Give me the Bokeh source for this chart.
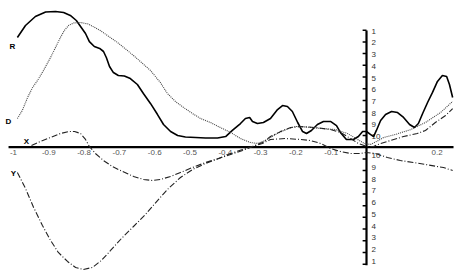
from bokeh.plotting import figure
from bokeh.models import ColumnDataSource
from bokeh.core.properties import value
from bokeh.embed import file_html
from bokeh.resources import INLINE

# ---- data ----
r_x = [-0.989, -0.966, -0.938, -0.909, -0.881, -0.858, -0.839, -0.822, -0.810, -0.796, -0.785, -0.771,
       -0.756, -0.745, -0.737, -0.728, -0.717, -0.703, -0.686, -0.669, -0.649, -0.632, -0.612, -0.592,
       -0.575, -0.555, -0.535, -0.513, -0.484, -0.456, -0.422, -0.399, -0.380, -0.357, -0.343, -0.331,
       -0.323, -0.309, -0.292, -0.272, -0.252, -0.238, -0.224, -0.210, -0.195, -0.181, -0.170, -0.156,
       -0.139, -0.122, -0.102, -0.085, -0.074, -0.057, -0.037, -0.023, -0.011, 0.000, 0.011, 0.020,
       0.028, 0.040, 0.054, 0.071, 0.088, 0.105, 0.122, 0.136, 0.147, 0.159, 0.173, 0.187, 0.201,
       0.215, 0.227, 0.235, 0.244]
r_y = [9.38, 10.40, 11.17, 11.56, 11.60, 11.51, 11.26, 10.83, 10.32, 9.72, 9.03, 8.61,
       8.44, 8.18, 7.67, 6.90, 6.38, 6.13, 6.09, 5.87, 5.36, 4.59, 3.74, 2.79,
       1.94, 1.34, 1.00, 0.87, 0.83, 0.79, 0.79, 0.91, 1.43, 2.02, 2.45, 2.54,
       2.20, 2.03, 2.11, 2.45, 3.22, 3.56, 3.48, 3.05, 2.11, 1.34, 1.17, 1.43,
       1.94, 2.20, 2.20, 1.85, 1.26, 0.66, 0.66, 0.91, 1.34, 1.34, 1.09, 0.91,
       1.43, 2.28, 2.79, 3.05, 2.96, 2.54, 1.94, 1.68, 2.02, 2.88, 3.82, 4.68, 5.62,
       6.13, 6.04, 5.36, 4.25]

d_x = [-0.989, -0.975, -0.960, -0.946, -0.932, -0.915, -0.895, -0.881, -0.867, -0.856, -0.844, -0.830,
       -0.810, -0.788, -0.754, -0.705, -0.660, -0.612, -0.584, -0.564, -0.541, -0.518, -0.493, -0.470,
       -0.442, -0.414, -0.385, -0.357, -0.329, -0.309, -0.286, -0.258, -0.229, -0.201, -0.173, -0.130,
       -0.088, -0.054, -0.025, -0.006, 0.011, 0.028, 0.048, 0.082, 0.125, 0.167, 0.210, 0.244]
d_y = [2.45, 3.14, 4.25, 5.10, 5.70, 6.56, 7.67, 8.52, 9.38, 9.97, 10.40, 10.62,
       10.66, 10.53, 9.97, 8.94, 7.84, 6.56, 5.53, 4.59, 3.90, 3.39, 2.88, 2.45,
       2.11, 1.68, 1.26, 0.74, 0.40, 0.32, 0.57, 1.09, 1.50, 1.77, 1.73, 1.60,
       1.51, 1.17, 0.66, 0.32, 0.23, 0.48, 0.82, 1.09, 1.50, 2.11, 2.97, 3.91]

x_x = [-0.949, -0.924, -0.895, -0.867, -0.844, -0.827, -0.810, -0.796, -0.785, -0.768, -0.745, -0.720,
       -0.691, -0.660, -0.632, -0.606, -0.584, -0.555, -0.527, -0.493, -0.456, -0.419, -0.385, -0.351,
       -0.323, -0.295, -0.272, -0.244, -0.215, -0.187, -0.144, -0.102, -0.074, -0.045, -0.023, 0.000,
       0.020, 0.040, 0.068, 0.105, 0.144, 0.167, 0.195, 0.224, 0.244]
x_y = [0.15, 0.49, 0.83, 1.17, 1.34, 1.34, 1.17, 0.66, 0.06, -0.54, -1.14, -1.65,
       -2.08, -2.50, -2.76, -2.85, -2.76, -2.50, -2.16, -1.74, -1.31, -0.97, -0.62, -0.28,
       0.06, 0.40, 0.91, 1.33, 1.68, 1.77, 1.68, 1.51, 1.26, 0.74, 0.32, 0.06,
       0.06, 0.32, 0.57, 0.91, 1.17, 1.43, 2.11, 2.71, 3.30]

y_x = [-0.989, -0.966, -0.943, -0.918, -0.895, -0.873, -0.847, -0.824, -0.802, -0.776, -0.751, -0.725,
       -0.694, -0.660, -0.626, -0.592, -0.561, -0.527, -0.493, -0.456, -0.419, -0.385, -0.351, -0.323,
       -0.295, -0.272, -0.229, -0.187, -0.159, -0.130, -0.102, -0.074, -0.045, -0.017, 0.000, 0.025,
       0.059, 0.096, 0.133, 0.167, 0.218, 0.244]
y_y = [-2.16, -3.53, -5.15, -6.69, -7.97, -9.00, -9.77, -10.28, -10.45, -10.28, -9.68, -8.83,
       -7.80, -6.78, -5.75, -4.56, -3.53, -2.59, -1.91, -1.39, -0.97, -0.54, -0.20, 0.06,
       0.32, 0.66, 0.74, 0.66, 0.57, 0.32, -0.11, -0.37, -0.54, -0.54, -0.45, -0.54,
       -0.88, -1.14, -1.31, -1.48, -1.74, -1.99]

x_ticks = [-1, -0.9, -0.8, -0.7, -0.6, -0.5, -0.4, -0.3, -0.2, -0.1, 0.2]
x_tick_labels = ["-1", "-0.9", "-0.8", "-0.7", "-0.6", "-0.5", "-0.4", "-0.3", "-0.2", "-0.1", "0.2"]
upper_ticks = [10, 9, 8, 7, 6, 5, 4, 3, 2, 1]
upper_tick_labels = ["1", "2", "3", "4", "5", "6", "7", "8", "9", "10"]
lower_ticks = [-1, -2, -3, -4, -5, -6, -7, -8, -9, -10]
lower_tick_labels = ["10", "9", "8", "7", "6", "5", "4", "3", "2", "1"]
series_names = ["R", "D", "X", "Y"]

# ---- figure ----
p = figure(width=458, height=277, x_range=(-1.0368, 0.2606), y_range=(-11.14, 12.54),
           output_backend="svg", toolbar_location=None, min_border=0)
p.axis.visible = False
p.grid.visible = False
p.outline_line_color = None
p.background_fill_color = "white"
p.border_fill_color = "white"

# axes drawn through the origin
p.segment(x0=[-1.014], y0=[0], x1=[0.2465], y1=[0], line_color="black", line_width=2.2)
p.segment(x0=[0], y0=[9.97], x1=[0], y1=[-10.1], line_color="black", line_width=2.2)

# vertical ticks
all_ticks = upper_ticks + lower_ticks
p.segment(x0=[-0.011] * len(all_ticks), y0=all_ticks, x1=[0] * len(all_ticks), y1=all_ticks,
          line_color="black", line_width=1.5)

font = value("Liberation Sans")
p.text(x=x_ticks, y=[0] * len(x_ticks), text=x_tick_labels, text_font=font,
       text_font_size="8px", text_color="#555555", text_align="center",
       text_baseline="middle", y_offset=5)
p.text(x=[0] * len(upper_ticks), y=upper_ticks, text=upper_tick_labels, text_font=font,
       text_font_size="8px", text_color="#333333", text_align="left",
       text_baseline="middle", x_offset=5, y_offset=1)
p.text(x=[0] * len(lower_ticks), y=lower_ticks, text=lower_tick_labels, text_font=font,
       text_font_size="8px", text_color="#333333", text_align="left",
       text_baseline="middle", x_offset=5, y_offset=-3)

# series
p.line(r_x, r_y, line_color="black", line_width=1.6)
p.line(d_x, d_y, line_color="#444444", line_width=1.1, line_dash="1 1")
p.line(x_x, x_y, line_color="#222222", line_width=1.1, line_dash="6 2 1 2")
p.line(y_x, y_y, line_color="#222222", line_width=1.1, line_dash="6 2 1 2")

# series labels at the start of each curve
starts_x = [r_x[0], d_x[0], x_x[0], y_x[0]]
starts_y = [r_y[0], d_y[0], x_y[0], y_y[0]]
p.text(x=starts_x, y=starts_y, text=series_names, text_font=font, text_font_size="8px",
       text_font_style="bold", text_color="black", text_align="center", text_baseline="middle",
       x_offset=[-5, -9, -5, -4], y_offset=[9, 3, -4, 1])

open("out.html", "w").write(file_html(p, INLINE))
